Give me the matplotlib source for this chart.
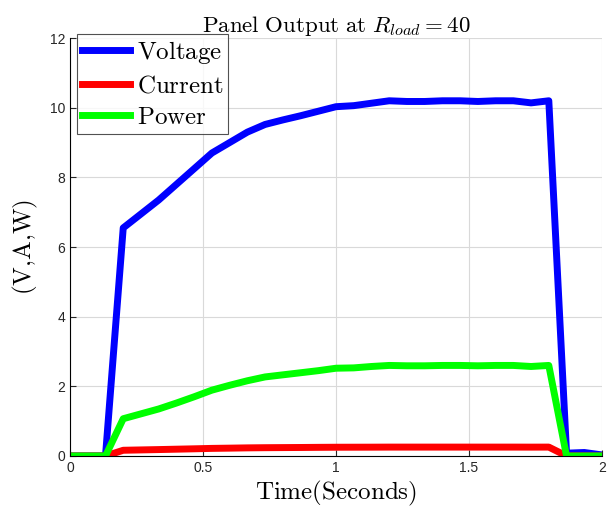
import matplotlib
matplotlib.use('Agg')
import matplotlib.pyplot as plt

plt.rcParams['mathtext.fontset'] = 'cm'
plt.rcParams['font.family'] = ['Liberation Sans', 'DejaVu Sans']

# sample times (s)
t = [0.0, 0.0667, 0.1333, 0.2, 0.2667, 0.3333, 0.4, 0.4667, 0.5333, 0.6,
     0.6667, 0.7333, 0.8, 0.8667, 0.9333, 1.0, 1.0667, 1.1333, 1.2, 1.2667,
     1.3333, 1.4, 1.4667, 1.5333, 1.6, 1.6667, 1.7333, 1.8, 1.8667, 1.9333, 2.0]

voltage = [0, 0, 0, 6.55, 6.95, 7.35, 7.8, 8.25, 8.7, 9.0,
           9.3, 9.52, 9.65, 9.77, 9.9, 10.03, 10.06, 10.13, 10.2, 10.18,
           10.18, 10.2, 10.2, 10.18, 10.2, 10.2, 10.14, 10.2, 0.08, 0.1, 0.03]

current = [0, 0, 0, 0.164, 0.174, 0.184, 0.195, 0.206, 0.218, 0.225,
           0.233, 0.238, 0.241, 0.244, 0.248, 0.251, 0.252, 0.253, 0.255, 0.255,
           0.255, 0.255, 0.255, 0.255, 0.255, 0.255, 0.254, 0.255, 0.002, 0.003, 0.001]

power = [0, 0, 0, 1.07, 1.21, 1.35, 1.52, 1.70, 1.89, 2.03,
         2.16, 2.27, 2.33, 2.39, 2.45, 2.52, 2.53, 2.57, 2.60, 2.59,
         2.59, 2.60, 2.60, 2.59, 2.60, 2.60, 2.57, 2.60, 0.0, 0.0, 0.0]

xticks = [0, 0.5, 1, 1.5, 2]
xlabels = ['0', '0.5', '1', '1.5', '2']
yticks = [0, 2, 4, 6, 8, 10, 12]

fig = plt.figure(figsize=(6.09, 5.08), dpi=100)
ax = fig.add_axes([0.115, 0.1024, 0.8735, 0.8226])

lw = 5
ax.plot(t, voltage, color=(0, 0, 1), lw=lw, label=r'$\mathrm{Voltage}$')
ax.plot(t, current, color=(1, 0, 0), lw=lw, label=r'$\mathrm{Current}$')
ax.plot(t, power, color=(0, 1, 0), lw=lw, label=r'$\mathrm{Power}$')

ax.set_xlim(0, 2)
ax.set_ylim(0, 12)
ax.set_xticks(xticks)
ax.set_xticklabels(xlabels)
ax.set_yticks(yticks)
ax.tick_params(direction='in', labelsize=10, length=4, width=0.8,
               colors='#262626')
ax.spines['top'].set_visible(False)
ax.spines['right'].set_visible(False)
ax.grid(True, color='#d9d9d9', lw=0.8)
ax.set_axisbelow(True)

ax.set_title(r'$\mathrm{Panel\ Output\ at\ }R_{load} = 40$', fontsize=16.5, pad=3)
ax.set_xlabel(r'$\mathrm{Time(Seconds)}$', fontsize=18, labelpad=3)
ax.set_ylabel(r'$\mathrm{(V{,}A{,}W)}$', fontsize=18, labelpad=7)

leg = ax.legend(loc='upper left', bbox_to_anchor=(0.0125, 1.01), fontsize=18,
                frameon=True, fancybox=False, edgecolor='#262626',
                handlelength=1.95, handletextpad=0.25, borderpad=0.2,
                labelspacing=0.3, borderaxespad=0)
leg.get_frame().set_linewidth(0.8)

fig.savefig('out.png', dpi=100)
